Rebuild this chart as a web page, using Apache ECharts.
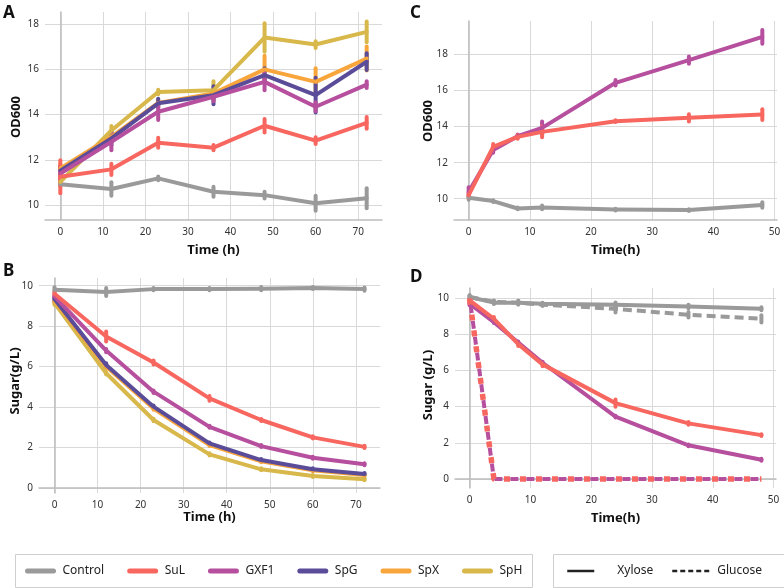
<!DOCTYPE html>
<html>
<head>
<meta charset="utf-8">
<script src="https://cdn.jsdelivr.net/npm/echarts@6/dist/echarts.min.js"></script>
<style>html,body{margin:0;padding:0;background:#fff;}#c{width:784px;height:588px;}</style>
</head>
<body>
<div id="c"></div>
<script>
// ---------- data ----------
const timeAB = [0, 12, 23, 36, 48, 60, 72];
const timeCD = [0, 4, 8, 12, 24, 36, 48];

const ticksX_AB = [0, 10, 20, 30, 40, 50, 60, 70];
const ticksX_CD = [0, 10, 20, 30, 40, 50];
const ticksY_A = [10, 12, 14, 16, 18];
const ticksY_B = [0, 2, 4, 6, 8, 10];
const ticksY_C = [10, 12, 14, 16, 18];
const ticksY_D = [0, 2, 4, 6, 8, 10];

const strains = ['Control', 'SuL', 'GXF1', 'SpG', 'SpX', 'SpH'];
const sugars = ['Xylose', 'Glucose'];

// Panel A: OD600
const odA_Control = [10.92, 10.71, 11.18, 10.59, 10.44, 10.08, 10.3];
const odA_SuL     = [11.25, 11.58, 12.76, 12.54, 13.51, 12.85, 13.64];
const odA_GXF1    = [11.4, 12.8, 14.13, 14.79, 15.45, 14.35, 15.33];
const odA_SpG     = [11.52, 12.95, 14.5, 14.86, 15.75, 14.86, 16.34];
const odA_SpX     = [11.62, 13.02, 14.52, 14.94, 16.0, 15.45, 16.48];
const odA_SpH     = [11.03, 13.3, 15.0, 15.08, 17.41, 17.1, 17.66];
const errA_Control = [0.1, 0.3, 0.08, 0.22, 0.15, 0.33, 0.44];
const errA_SuL     = [0.73, 0.25, 0.22, 0.12, 0.3, 0.15, 0.26];
const errA_GXF1    = [0.3, 0.37, 0.37, 0.2, 0.37, 0.2, 0.15];
const errA_SpG     = [0.2, 0.3, 0.2, 0.4, 0.3, 0.77, 0.37];
const errA_SpX     = [0.2, 0.2, 0.15, 0.2, 0.6, 0.6, 0.53];
const errA_SpH     = [0.15, 0.2, 0.1, 0.4, 0.63, 0.15, 0.46];

// Panel B: sugar
const sugB_Control = [9.8, 9.69, 9.83, 9.83, 9.85, 9.88, 9.83];
const sugB_SuL     = [9.6, 7.49, 6.2, 4.43, 3.36, 2.5, 2.03];
const sugB_GXF1    = [9.47, 6.79, 4.76, 3.02, 2.07, 1.49, 1.17];
const sugB_SpG     = [9.34, 6.08, 4.02, 2.2, 1.38, 0.92, 0.69];
const sugB_SpX     = [9.27, 6.0, 3.93, 2.12, 1.32, 0.87, 0.64];
const sugB_SpH     = [9.14, 5.67, 3.36, 1.66, 0.92, 0.59, 0.43];
const errB_Control = [0.12, 0.2, 0.06, 0.05, 0.08, 0.05, 0.08];
const errB_SuL     = [0.1, 0.25, 0.1, 0.12, 0.05, 0.05, 0.05];
const errB_GXF1    = [0.08, 0.08, 0.06, 0.05, 0.05, 0.05, 0.05];
const errB_SpG     = [0.1, 0.08, 0.06, 0.05, 0.05, 0.05, 0.05];
const errB_SpX     = [0.12, 0.08, 0.06, 0.05, 0.05, 0.05, 0.05];
const errB_SpH     = [0.1, 0.06, 0.06, 0.05, 0.05, 0.05, 0.05];

// Panel C: OD600
const odC_Control = [10.05, 9.87, 9.46, 9.52, 9.4, 9.37, 9.65];
const odC_GXF1    = [10.38, 12.7, 13.47, 13.93, 16.43, 17.69, 18.98];
const odC_SuL     = [10.2, 12.88, 13.43, 13.71, 14.3, 14.49, 14.67];
const errC_Control = [0.1, 0.05, 0.05, 0.1, 0.05, 0.05, 0.15];
const errC_GXF1    = [0.25, 0.15, 0.1, 0.35, 0.15, 0.2, 0.38];
const errC_SuL     = [0.15, 0.15, 0.1, 0.3, 0.05, 0.2, 0.3];

// Panel D: xylose (solid) and glucose (dashed)
const xylD_Control = [10.05, 9.74, 9.74, 9.68, 9.63, 9.53, 9.4];
const xylD_GXF1    = [9.68, 8.66, 7.54, 6.42, 3.44, 1.86, 1.06];
const xylD_SuL     = [9.87, 8.85, 7.45, 6.33, 4.19, 3.07, 2.42];
const gluD_Control = [10.05, 9.78, 9.74, 9.63, 9.4, 9.07, 8.85];
const gluD_GXF1    = [10.05, 0, 0, 0, 0, 0, 0];
const gluD_SuL     = [9.96, 0, 0, 0, 0, 0, 0];
const errD_xylControl = [0.1, 0.08, 0.1, 0.05, 0.12, 0.1, 0.08];
const errD_xylGXF1    = [0.08, 0.05, 0.05, 0.05, 0.05, 0.05, 0.05];
const errD_xylSuL     = [0.1, 0.1, 0.1, 0.1, 0.2, 0.08, 0.05];
const errD_gluControl = [0.1, 0.08, 0.1, 0.08, 0.2, 0.15, 0.2];

const colors = {
  Control: '#9a9a9a', SuL: '#f8675f', GXF1: '#b64f9e',
  SpG: '#5a4c98', SpX: '#f8a53c', SpH: '#d8b84b'
};

// ---------- helpers ----------
const FONT = "'Noto Sans', 'Open Sans', sans-serif";
const series = [];

function addLine(gi, name, xs, ys, errs, opts) {
  opts = opts || {};
  const color = colors[name];
  series.push({
    type: 'line', name: name, xAxisIndex: gi, yAxisIndex: gi,
    data: xs.map((x, i) => [x, ys[i]]),
    symbol: 'none', smooth: false, z: opts.z || 2,
    lineStyle: { color: color, width: opts.width || 4, type: opts.dash || 'solid',
                 dashOffset: opts.dashOffset || 0, cap: opts.dash ? 'butt' : 'round', join: 'round' },
    itemStyle: { color: color },
    emphasis: { disabled: true }, silent: true
  });
  if (errs) {
    series.push({
      type: 'custom', xAxisIndex: gi, yAxisIndex: gi, z: opts.z || 2, silent: true,
      data: xs.map((x, i) => [x, ys[i] - errs[i], ys[i] + errs[i]]),
      renderItem: function (params, api) {
        const p1 = api.coord([api.value(0), api.value(1)]);
        const p2 = api.coord([api.value(0), api.value(2)]);
        return { type: 'line', shape: { x1: p1[0], y1: p1[1], x2: p2[0], y2: p2[1] },
                 style: { stroke: color, lineWidth: 4, lineCap: 'round' } };
      }
    });
  }
}

const grids = [
  { left: 45, top: 12, width: 337, height: 208 },
  { left: 39, top: 278, width: 341, height: 215 },
  { left: 454, top: 21, width: 323, height: 199 },
  { left: 455, top: 288, width: 321, height: 200 }
];

function xAx(gi, min, max, ticks, name, gap) {
  return {
    type: 'value', gridIndex: gi, min: min, max: max,
    name: name, nameLocation: 'middle', nameGap: gap,
    nameTextStyle: { fontFamily: FONT, fontWeight: 'bold', fontSize: 13, color: '#111' },
    axisLine: { show: true, lineStyle: { color: '#bdbdbd', width: 1.5 } },
    axisTick: { show: false, customValues: ticks },
    axisLabel: { customValues: ticks, fontFamily: FONT, fontSize: 10, color: '#333', margin: 7 },
    splitLine: { show: true, lineStyle: { color: '#d9d9d9', width: 1 } }
  };
}
function yAx(gi, min, max, ticks) {
  return {
    type: 'value', gridIndex: gi, min: min, max: max,
    axisLine: { show: true, lineStyle: { color: '#bdbdbd', width: 1.5 } },
    axisTick: { show: false, customValues: ticks },
    axisLabel: { customValues: ticks, fontFamily: FONT, fontSize: 10, color: '#333', margin: 6 },
    splitLine: { show: true, lineStyle: { color: '#d9d9d9', width: 1 } }
  };
}

// Panel A
addLine(0, 'Control', timeAB, odA_Control, errA_Control);
addLine(0, 'SpH', timeAB, odA_SpH, errA_SpH);
addLine(0, 'SpX', timeAB, odA_SpX, errA_SpX);
addLine(0, 'SpG', timeAB, odA_SpG, errA_SpG);
addLine(0, 'GXF1', timeAB, odA_GXF1, errA_GXF1);
addLine(0, 'SuL', timeAB, odA_SuL, errA_SuL);
// Panel B
addLine(1, 'Control', timeAB, sugB_Control, errB_Control);
addLine(1, 'SpH', timeAB, sugB_SpH, errB_SpH);
addLine(1, 'SpX', timeAB, sugB_SpX, errB_SpX);
addLine(1, 'SpG', timeAB, sugB_SpG, errB_SpG);
addLine(1, 'GXF1', timeAB, sugB_GXF1, errB_GXF1);
addLine(1, 'SuL', timeAB, sugB_SuL, errB_SuL);
// Panel C
addLine(2, 'Control', timeCD, odC_Control, errC_Control);
addLine(2, 'GXF1', timeCD, odC_GXF1, errC_GXF1);
addLine(2, 'SuL', timeCD, odC_SuL, errC_SuL);
// Panel D
addLine(3, 'Control', timeCD, gluD_Control, errD_gluControl, { dash: [9, 5] });
addLine(3, 'Control', timeCD, xylD_Control, errD_xylControl);
addLine(3, 'GXF1', timeCD, xylD_GXF1, errD_xylGXF1);
addLine(3, 'SuL', timeCD, xylD_SuL, errD_xylSuL);
addLine(3, 'GXF1', timeCD, gluD_GXF1, null, { dash: [8, 8], dashOffset: 8, width: 4, z: 3 });
addLine(3, 'SuL', timeCD, gluD_SuL, null, { dash: [6, 10], width: 5.5, z: 4 });

// legend-only series
series.push({ type: 'line', name: sugars[0], xAxisIndex: 3, yAxisIndex: 3, data: [], symbol: 'none',
  lineStyle: { color: '#222', width: 2.5, type: 'solid' }, itemStyle: { color: '#222' } });
series.push({ type: 'line', name: sugars[1], xAxisIndex: 3, yAxisIndex: 3, data: [], symbol: 'none',
  lineStyle: { color: '#222', width: 2.5, type: [5, 3] }, itemStyle: { color: '#222' } });

const letterStyle = { fontFamily: FONT, fontWeight: 'bold', fontSize: 17, fill: '#111' };
const titleStyle = { fontFamily: FONT, fontWeight: 'bold', fontSize: 13, fill: '#111', align: 'center', verticalAlign: 'middle' };
const legendText = { fontFamily: FONT, fontSize: 12, color: '#222' };

function yTitle(text, x, y) {
  return { type: 'text', x: x, y: y, rotation: Math.PI / 2, silent: true,
           style: Object.assign({ text: text }, titleStyle) };
}

const option = {
  animation: false,
  backgroundColor: '#ffffff',
  grid: grids,
  xAxis: [
    xAx(0, -3.6, 75.6, ticksX_AB, 'Time (h)', 24),
    xAx(1, -3.6, 75.6, ticksX_AB, 'Time (h)', 18),
    xAx(2, -2.4, 50.4, ticksX_CD, 'Time(h)', 24),
    xAx(3, -2.4, 50.4, ticksX_CD, 'Time(h)', 24)
  ],
  yAxis: [
    yAx(0, 9.34, 18.54, ticksY_A),
    yAx(1, -0.25, 10.38, ticksY_B),
    yAx(2, 8.82, 19.86, ticksY_C),
    yAx(3, -0.5, 10.55, ticksY_D)
  ],
  legend: [
    {
      data: strains, left: 25, top: 565, orient: 'horizontal', padding: 0,
      itemWidth: 26, itemHeight: 1, itemGap: 23, selectedMode: false,
      itemStyle: { opacity: 0 },
      lineStyle: { width: 5, cap: 'round' },
      textStyle: Object.assign({ padding: [0, 0, 0, 4] }, legendText)
    },
    {
      data: [sugars[0]], left: 566, top: 565, orient: 'horizontal', padding: 0,
      itemWidth: 27, itemHeight: 1, selectedMode: false,
      itemStyle: { opacity: 0 },
      lineStyle: { width: 2.5 },
      textStyle: Object.assign({ padding: [0, 0, 0, 18] }, legendText)
    },
    {
      data: [sugars[1]], left: 671, top: 565, orient: 'horizontal', padding: 0,
      itemWidth: 37, itemHeight: 1, selectedMode: false,
      itemStyle: { opacity: 0 },
      lineStyle: { width: 2.5 },
      textStyle: Object.assign({ padding: [0, 0, 0, 3] }, legendText)
    }
  ],
  graphic: [
    { type: 'rect', shape: { x: 15.5, y: 554.5, width: 517, height: 33 }, style: { fill: 'none', stroke: '#cfcfcf', lineWidth: 1 }, silent: true },
    { type: 'rect', shape: { x: 553.5, y: 554.5, width: 240, height: 33 }, style: { fill: 'none', stroke: '#cfcfcf', lineWidth: 1 }, silent: true },
    { type: 'text', left: 3, top: 5, style: Object.assign({ text: 'A' }, letterStyle) },
    { type: 'text', left: 3, top: 263, style: Object.assign({ text: 'B' }, letterStyle) },
    { type: 'text', left: 410, top: 5, style: Object.assign({ text: 'C' }, letterStyle) },
    { type: 'text', left: 410, top: 269, style: Object.assign({ text: 'D' }, letterStyle) },
    yTitle('OD600', 16, 117),
    yTitle('Sugar(g/L)', 15, 381),
    yTitle('OD600', 428, 121),
    yTitle('Sugar (g/L)', 428, 385)
  ],
  series: series
};

const chart = echarts.init(document.getElementById('c'), null, { renderer: 'canvas' });
chart.setOption(option);
</script>
</body>
</html>
